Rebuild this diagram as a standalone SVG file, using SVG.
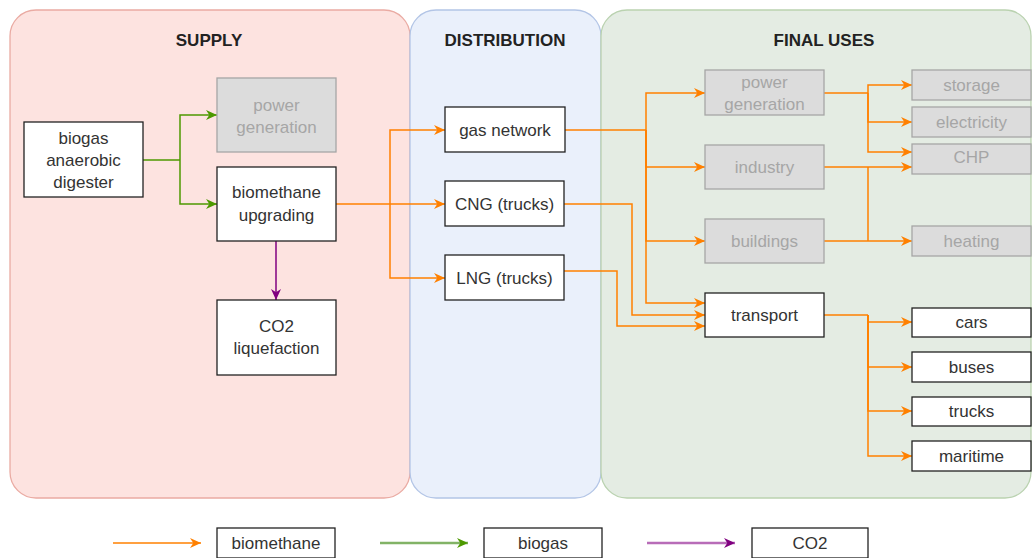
<svg xmlns="http://www.w3.org/2000/svg" width="1033" height="558" viewBox="0 0 1033 558">
<defs>
<marker id="aO" markerUnits="userSpaceOnUse" markerWidth="12" markerHeight="12" refX="11" refY="6" orient="auto"><path d="M0,1 L11,6 L0,11 L3.3,6 z" fill="#ff8000"/></marker>
<marker id="aG" markerUnits="userSpaceOnUse" markerWidth="12" markerHeight="12" refX="11" refY="6" orient="auto"><path d="M0,1 L11,6 L0,11 L3.3,6 z" fill="#4d9900"/></marker>
<marker id="aP" markerUnits="userSpaceOnUse" markerWidth="12" markerHeight="12" refX="11" refY="6" orient="auto"><path d="M0,1 L11,6 L0,11 L3.3,6 z" fill="#800080"/></marker>
</defs>
<style>
text{font-family:"Liberation Sans",Arial,sans-serif;font-size:17px;text-anchor:middle;fill:#333}
.title{font-weight:bold;fill:#222}
.n rect{fill:#fff;stroke:#222;stroke-width:1.3}
.g rect{fill:#dcdcdc;stroke:#a6a6a6;stroke-width:1.3}
.g text{fill:#a6a6a6}
.o{fill:none;stroke:#ff8000;stroke-width:1.5;marker-end:url(#aO)}
.on{fill:none;stroke:#ff8000;stroke-width:1.5}
.gr{fill:none;stroke:#4d9900;stroke-width:1.5;marker-end:url(#aG)}
.grn{fill:none;stroke:#4d9900;stroke-width:1.5}
.pu{fill:none;stroke:#800080;stroke-width:1.5;marker-end:url(#aP)}
</style>
<rect width="1033" height="558" fill="#fff"/>
<g id="containers">
<rect id="supply" x="10" y="10" width="400" height="488" rx="26" fill="#fde3e0" stroke="#eaaba3" stroke-width="1.3"/>
<rect id="distribution" x="410" y="10" width="191" height="488" rx="26" fill="#eaf0fb" stroke="#b3c5e6" stroke-width="1.3"/>
<rect id="finaluses" x="601" y="10" width="430" height="488" rx="26" fill="#e4ece3" stroke="#bad2b0" stroke-width="1.3"/>
<text class="title" x="209" y="46">SUPPLY</text>
<text class="title" x="505" y="46">DISTRIBUTION</text>
<text class="title" x="824" y="46">FINAL USES</text>
</g>
<g id="connectors">
<path class="grn" d="M143,160 H180"/>
<path class="gr" d="M180,160 V115 H217"/>
<path class="gr" d="M180,160 V204 H217"/>
<path class="pu" d="M276,241 V300"/>
<path class="on" d="M336,204 H390"/>
<path class="o" d="M390,204 V130 H445"/>
<path class="o" d="M390,204 H445"/>
<path class="o" d="M390,204 V278 H445"/>
<path class="on" d="M565,130 H646"/>
<path class="o" d="M646,130 V93 H705"/>
<path class="o" d="M646,130 V167 H705"/>
<path class="o" d="M646,130 V241 H705"/>
<path class="o" d="M646,130 V303 H705"/>
<path class="o" d="M564,204 H632 V315 H705"/>
<path class="o" d="M564,271 H617 V326 H705"/>
<path class="on" d="M824,93 H868"/>
<path class="o" d="M868,93 V85 H912"/>
<path class="o" d="M868,93 V122 H912"/>
<path class="o" d="M868,93 V152 H912"/>
<path class="on" d="M824,167 H868"/>
<path class="o" d="M868,167 H912"/>
<path class="on" d="M868,167 V241"/>
<path class="o" d="M824,241 H912"/>
<path class="on" d="M824,315 H868"/>
<path class="o" d="M868,315 V322 H912"/>
<path class="o" d="M868,315 V367 H912"/>
<path class="o" d="M868,315 V411 H912"/>
<path class="o" d="M868,315 V456 H912"/>
</g>
<g id="digester" class="n"><rect x="24" y="122" width="119" height="75"/><text x="83.5" y="144">biogas</text><text x="83.5" y="166">anaerobic</text><text x="83.5" y="188">digester</text></g>
<g id="supply-power" class="g"><rect x="217" y="78" width="119" height="74"/><text x="276.5" y="111">power</text><text x="276.5" y="133">generation</text></g>
<g id="upgrading" class="n"><rect x="217" y="167" width="119" height="74"/><text x="276.5" y="198">biomethane</text><text x="276.5" y="221">upgrading</text></g>
<g id="co2liq" class="n"><rect x="217" y="300" width="119" height="75"/><text x="276.5" y="332">CO2</text><text x="276.5" y="354">liquefaction</text></g>
<g id="gasnet" class="n"><rect x="445" y="107" width="120" height="45"/><text x="505" y="136">gas network</text></g>
<g id="cng" class="n"><rect x="445" y="181" width="119" height="45"/><text x="504.5" y="210">CNG (trucks)</text></g>
<g id="lng" class="n"><rect x="445" y="255" width="119" height="45"/><text x="504.5" y="284">LNG (trucks)</text></g>
<g id="fu-power" class="g"><rect x="705" y="70" width="119" height="45"/><text x="764.5" y="88">power</text><text x="764.5" y="110">generation</text></g>
<g id="industry" class="g"><rect x="705" y="145" width="119" height="44"/><text x="764.5" y="173">industry</text></g>
<g id="buildings" class="g"><rect x="705" y="219" width="119" height="44"/><text x="764.5" y="247">buildings</text></g>
<g id="transport" class="n"><rect x="705" y="293" width="119" height="44"/><text x="764.5" y="321">transport</text></g>
<g id="storage" class="g"><rect x="912" y="70" width="119" height="30"/><text x="971.5" y="91">storage</text></g>
<g id="electricity" class="g"><rect x="912" y="107" width="119" height="30"/><text x="971.5" y="128">electricity</text></g>
<g id="chp" class="g"><rect x="912" y="144" width="119" height="30"/><text x="971.5" y="163">CHP</text></g>
<g id="heating" class="g"><rect x="912" y="226" width="119" height="30"/><text x="971.5" y="247">heating</text></g>
<g id="cars" class="n"><rect x="912" y="308" width="119" height="29"/><text x="971.5" y="328">cars</text></g>
<g id="buses" class="n"><rect x="912" y="352" width="119" height="30"/><text x="971.5" y="373">buses</text></g>
<g id="trucks" class="n"><rect x="912" y="397" width="119" height="29"/><text x="971.5" y="417">trucks</text></g>
<g id="maritime" class="n"><rect x="912" y="441" width="119" height="30"/><text x="971.5" y="462">maritime</text></g>
<g id="legend">
<path d="M113,543 H201" fill="none" stroke="#ff8000" stroke-width="1.5" marker-end="url(#aO)"/>
<g class="n"><rect x="217" y="528" width="118" height="30"/><text x="276" y="549">biomethane</text></g>
<path d="M380,543 H468" fill="none" stroke="#82b366" stroke-width="2.4" marker-end="url(#aG)"/>
<g class="n"><rect x="484" y="528" width="118" height="30"/><text x="543" y="549">biogas</text></g>
<path d="M647,543 H735" fill="none" stroke="#b86cb8" stroke-width="2.4" marker-end="url(#aP)"/>
<g class="n"><rect x="752" y="528" width="116" height="30"/><text x="810" y="549">CO2</text></g>
</g>
</svg>
